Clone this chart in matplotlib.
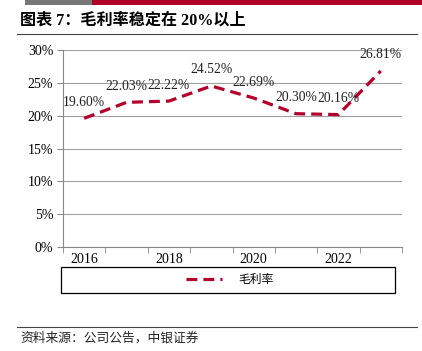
import matplotlib
matplotlib.use("Agg")
import matplotlib.pyplot as plt
from matplotlib.lines import Line2D
from matplotlib.patches import Rectangle

years = [2016, 2017, 2018, 2019, 2020, 2021, 2022, 2023]
margin = [19.60, 22.03, 22.22, 24.52, 22.69, 20.30, 20.16, 26.81]
yticks = [0, 5, 10, 15, 20, 25, 30]
label_years = [2016, 2018, 2020, 2022]

red = '#B5002B'
fams = ['Liberation Serif', 'Noto Sans CJK SC']
plt.rcParams['font.family'] = fams

W, H = 422, 351
fig = plt.figure(figsize=(W / 100, H / 100), dpi=100)

# axes placed in pixel units
ax = fig.add_axes([63 / W, (H - 247) / H, 339 / W, 197 / H])
x = list(range(len(years)))
ax.plot(x, margin, color=red, lw=2.3, ls=(0, (3.4, 1.9)), label='毛利率',
        dash_capstyle='butt')
for xi, v in zip(x, margin):
    ax.annotate(f'{v:.2f}%', (xi, v), xytext=(0, 16), textcoords='offset pixels',
                ha='center', va='center', fontsize=9.8, color='#222222')

ax.set_xlim(-0.5, len(years) - 0.5)
ax.set_ylim(0, 30)
ax.set_yticks(yticks)
ax.set_yticklabels([f'{t}%' for t in yticks], fontsize=10)
ax.set_xticks([years.index(y) for y in label_years])
ax.set_xticklabels([str(y) for y in label_years], fontsize=10)
ax.set_xticks([i - 0.5 for i in range(len(years) + 1)], minor=True)
ax.tick_params(axis='x', which='major', length=0, pad=4)
ax.tick_params(axis='x', which='minor', length=4, color='#888888')
ax.tick_params(axis='y', length=4, color='#888888', pad=3)
ax.grid(axis='y', color='#A0A0A0', lw=0.8)
ax.set_axisbelow(True)
for s in ['top', 'right']:
    ax.spines[s].set_visible(False)
for s in ['left', 'bottom']:
    ax.spines[s].set_color('#888888')
    ax.spines[s].set_linewidth(0.8)

# legend box
fig.add_artist(Rectangle((61 / W, (H - 293) / H), 334 / W, 26 / H,
                         transform=fig.transFigure, fill=False, ec='black', lw=0.9))
h, l = ax.get_legend_handles_labels()
fig.legend(h, l, loc='center', bbox_to_anchor=(230 / W, (H - 280) / H),
           frameon=False, handlelength=3.0, handletextpad=1.4,
           prop={'family': fams, 'size': 8.5})

# title block
fig.add_artist(Rectangle((25 / W, (H - 5) / H), 67 / W, 5 / H,
                         transform=fig.transFigure, color='#777777', lw=0))
fig.add_artist(Rectangle((92 / W, (H - 5) / H), 330 / W, 5 / H,
                         transform=fig.transFigure, color='#B0002A', lw=0))
fig.text(20 / W, 1 - 21 / H, '图表 7：毛利率稳定在 20%以上', fontsize=11.6,
         fontweight='bold', va='center', ha='left')
fig.add_artist(Line2D([17 / W, 417 / W], [1 - 34 / H] * 2, color='#444444', lw=0.8))

# footer
fig.add_artist(Line2D([17 / W, 417 / W], [1 - 327 / H] * 2, color='#444444', lw=0.8))
fig.text(20 / W, 1 - 338 / H, '资料来源：公司公告，中银证券', fontsize=9.2,
         style='italic', va='center', ha='left', color='#222222')

fig.savefig('out.png', dpi=100)
